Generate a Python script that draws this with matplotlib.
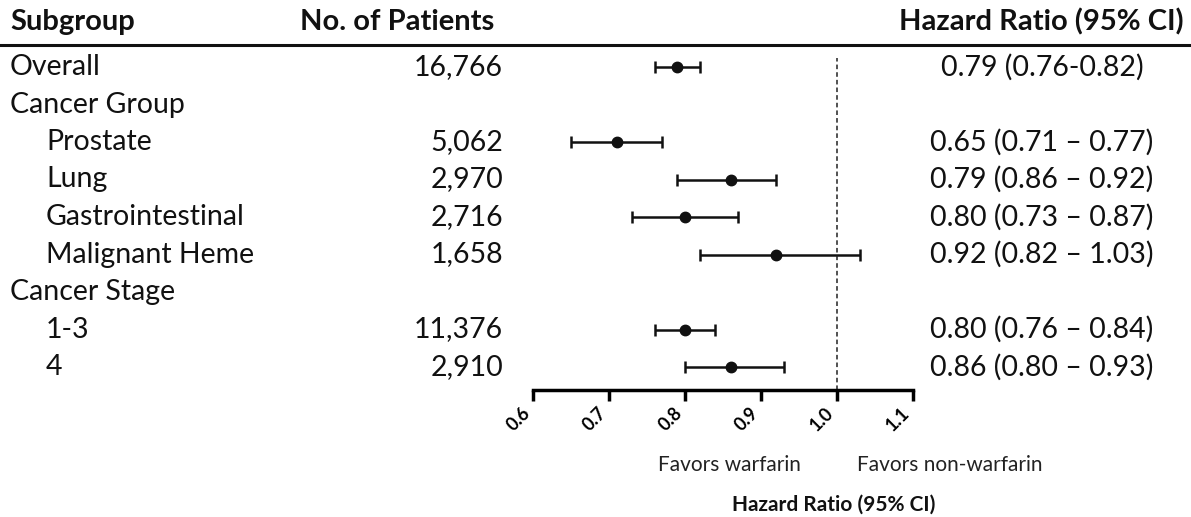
import numpy as np
import matplotlib
matplotlib.use('Agg')
import matplotlib.pyplot as plt
from matplotlib.lines import Line2D

plt.rcParams['font.family'] = ['Lato', 'DejaVu Sans']

# table rows (top to bottom)
row_labels = ['Overall', 'Cancer Group', 'Prostate', 'Lung', 'Gastrointestinal',
              'Malignant Heme', 'Cancer Stage', '1-3', '4']
row_indent = [0, 0, 1, 1, 1, 1, 0, 1, 1]
patients = ['16,766', '', '5,062', '2,970', '2,716', '1,658', '', '11,376', '2,910']
hr_text = ['0.79 (0.76-0.82)', '', '0.65 (0.71 \u2013 0.77)', '0.79 (0.86 \u2013 0.92)',
           '0.80 (0.73 \u2013 0.87)', '0.92 (0.82 \u2013 1.03)', '',
           '0.80 (0.76 \u2013 0.84)', '0.86 (0.80 \u2013 0.93)']

# plotted estimates (row index, point, lower, upper)
est_rows = [0, 2, 3, 4, 5, 7, 8]
est_hr = [0.79, 0.71, 0.86, 0.80, 0.92, 0.80, 0.86]
est_lo = [0.76, 0.65, 0.79, 0.73, 0.82, 0.76, 0.80]
est_hi = [0.82, 0.77, 0.92, 0.87, 1.03, 0.84, 0.93]

xticks = [0.6, 0.7, 0.8, 0.9, 1.0, 1.1]

W, H = 1191, 517
fig = plt.figure(figsize=(W / 100, H / 100), dpi=100)

def fx(x):
    return x / W

def fy(y):
    return 1 - y / H

# forest axes: 0.6 -> 533px, 1.1 -> 913px, top 58px, bottom 390px
ax = fig.add_axes([fx(533), fy(390), fx(913) - fx(533), (390 - 58) / H])
ax.set_xlim(0.6, 1.1)
row0, step = 67, 37.5
ax.set_ylim(8 + (390 - 367) / step, -(row0 - 58) / step)

est_hr = np.array(est_hr)
xerr = [est_hr - np.array(est_lo), np.array(est_hi) - est_hr]
ax.errorbar(est_hr, est_rows, xerr=xerr, fmt='o', color='#111111', ms=7.5,
            elinewidth=1.8, capsize=4, capthick=1.8)
ax.axvline(1.0, color='#222222', lw=1.1, ls=(0, (3, 2)))

for s in ['top', 'right', 'left']:
    ax.spines[s].set_visible(False)
ax.spines['bottom'].set_linewidth(2.5)
ax.set_yticks([])
ax.set_xticks(xticks)
ax.set_xticklabels(['%.1f' % t for t in xticks], rotation=45, ha='right',
                   fontsize=13, fontweight='bold')
ax.tick_params(axis='x', length=8, width=2.5, pad=2)

# header
fig.add_artist(Line2D([fx(0), 1], [fy(45), fy(45)], color='#111111', lw=2.2))
hdr = dict(fontsize=21, fontweight='bold', va='center', color='#111111')
fig.text(fx(10), fy(22), 'Subgroup', ha='left', **hdr)
fig.text(fx(300), fy(22), 'No. of Patients', ha='left', **hdr)
fig.text(fx(1184), fy(22), 'Hazard Ratio (95% CI)', ha='right', **hdr)

body = dict(fontsize=20.5, va='center', color='#111111')
for i, lab in enumerate(row_labels):
    y = row0 + step * i
    fig.text(fx(10 + 36 * row_indent[i]), fy(y), lab, ha='left', **body)
    fig.text(fx(503), fy(y), patients[i], ha='right', **body)
    fig.text(fx(1042), fy(y), hr_text[i], ha='center', **body)

fig.text(fx(729), fy(465), 'Favors warfarin', ha='center', va='center',
         fontsize=15, color='#222222')
fig.text(fx(950), fy(465), 'Favors non-warfarin', ha='center', va='center',
         fontsize=15, color='#222222')
fig.text(fx(834), fy(505), 'Hazard Ratio (95% CI)', ha='center', va='center',
         fontsize=15, fontweight='bold', color='#111111')

fig.savefig('out.png', dpi=100)
